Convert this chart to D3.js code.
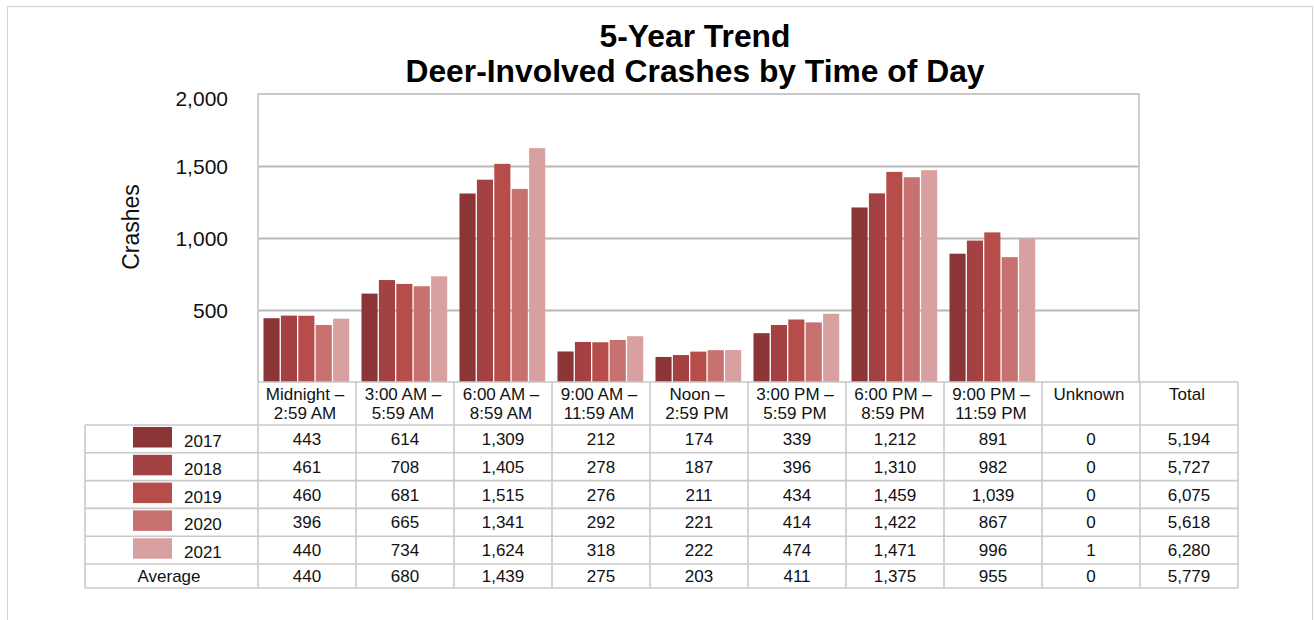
<!DOCTYPE html>
<html>
<head>
<meta charset="utf-8">
<script src="https://cdn.jsdelivr.net/npm/d3@7"></script>
<style>
  html, body { margin: 0; padding: 0; background: #ffffff; }
  svg { display: block; font-family: "Liberation Sans", Arial, sans-serif; }
</style>
</head>
<body>
<svg id="chart" width="1314" height="620"></svg>
<script>
// ---------- data ----------
const titleLines = ["5-Year Trend", "Deer-Involved Crashes by Time of Day"];
const yAxisTitle = "Crashes";
const categories = [
  "Midnight –|2:59 AM", "3:00 AM –|5:59 AM", "6:00 AM –|8:59 AM", "9:00 AM –|11:59 AM",
  "Noon –|2:59 PM", "3:00 PM –|5:59 PM", "6:00 PM –|8:59 PM", "9:00 PM –|11:59 PM", "Unknown"
];
const totalHeader = "Total";
const years = ["2017", "2018", "2019", "2020", "2021"];
const values2017 = [443, 614, 1309, 212, 174, 339, 1212, 891, 0];
const values2018 = [461, 708, 1405, 278, 187, 396, 1310, 982, 0];
const values2019 = [460, 681, 1515, 276, 211, 434, 1459, 1039, 0];
const values2020 = [396, 665, 1341, 292, 221, 414, 1422, 867, 0];
const values2021 = [440, 734, 1624, 318, 222, 474, 1471, 996, 1];
const totals = [5194, 5727, 6075, 5618, 6280];
const averageLabel = "Average";
const averages = [440, 680, 1439, 275, 203, 411, 1375, 955, 0];
const averageTotal = 5779;
const yTicks = [500, 1000, 1500, 2000];
const colors = ["#8c3537", "#a44142", "#b64d4b", "#c77170", "#d8a0a1"];

const series = [values2017, values2018, values2019, values2020, values2021];

// ---------- layout ----------
const svg = d3.select("#chart");
const fmt = d3.format(",");
const font = "Liberation Sans, Arial, sans-serif";
const plot = { left: 258, right: 1140, top: 94, bottom: 382 };
const colW = (plot.right - plot.left) / categories.length;
const tableLeft = 85;
const tableRight = plot.right + colW;
const headerBottom = 425;
const rowH = 27.8;
const avgRowH = 24;
const lineColor = "#c9c9c9";

// outer frame
svg.append("rect")
  .attr("x", 7.5).attr("y", 6.5).attr("width", 1305).attr("height", 700)
  .attr("fill", "none").attr("stroke", "#d3d3d3").attr("stroke-width", 1.2);

// title
svg.append("g").selectAll("text").data(titleLines).join("text")
  .attr("x", 695).attr("y", (d, i) => 47 + i * 35)
  .attr("text-anchor", "middle")
  .attr("font-size", 31.8).attr("font-weight", "bold").attr("fill", "#000")
  .text(d => d);

// scales
const x0 = d3.scaleBand().domain(categories).range([plot.left, plot.right])
  .paddingInner(0.112).paddingOuter(0.056);
const x1 = d3.scaleBand().domain(years).range([0, x0.bandwidth()]);
const y = d3.scaleLinear().domain([0, 2000]).range([plot.bottom, plot.top]);

// gridlines
const grid = svg.append("g").attr("transform", `translate(${plot.left},0)`)
  .call(d3.axisLeft(y).tickValues(yTicks.filter(v => v < 2000)).tickSize(-(plot.right - plot.left)).tickFormat(""));
grid.select(".domain").remove();
grid.selectAll(".tick line").attr("stroke", "#b8b8b8").attr("stroke-width", 2);

// plot border (top, left, right)
svg.append("path")
  .attr("d", `M${plot.left},${plot.bottom} V${y(2000)} H${plot.right - 1} V${plot.bottom}`)
  .attr("fill", "none").attr("stroke", lineColor).attr("stroke-width", 1.8);

// y axis labels
const yAxis = svg.append("g").attr("transform", `translate(${plot.left},0)`)
  .call(d3.axisLeft(y).tickValues(yTicks).tickSize(0).tickPadding(30).tickFormat(fmt));
yAxis.select(".domain").remove();
yAxis.selectAll("text")
  .attr("font-family", font).attr("font-size", 21).attr("fill", "#111")
  .attr("dy", d => d === 2000 ? "0.55em" : "0.34em");

// y axis title
svg.append("text")
  .attr("transform", "translate(131,227) rotate(-90)")
  .attr("text-anchor", "middle").attr("dominant-baseline", "central")
  .attr("font-size", 23).attr("fill", "#111").text(yAxisTitle);

// bars
const groups = svg.append("g").selectAll("g").data(categories).join("g")
  .attr("transform", d => `translate(${x0(d)},0)`);
groups.selectAll("rect")
  .data((c, ci) => years.map((yr, si) => ({ yr, si, v: series[si][ci] })))
  .join("rect")
  .attr("x", d => x1(d.yr))
  .attr("width", x1.bandwidth() - 1.3)
  .attr("y", d => y(d.v))
  .attr("height", d => y(0) - y(d.v))
  .attr("fill", d => colors[d.si]);

// ---------- table ----------
const table = svg.append("g");
const colEdges = d3.range(categories.length + 2).map(i => plot.left + i * colW);
const rowTops = [headerBottom];
years.forEach(() => rowTops.push(rowTops[rowTops.length - 1] + rowH));
rowTops.push(rowTops[rowTops.length - 1] + avgRowH);
const tableBottom = rowTops[rowTops.length - 1];

// horizontal lines
table.append("line").attr("x1", plot.left).attr("x2", tableRight).attr("y1", plot.bottom).attr("y2", plot.bottom);
rowTops.forEach(t => table.append("line").attr("x1", tableLeft).attr("x2", tableRight).attr("y1", t).attr("y2", t));
// vertical lines
table.append("line").attr("x1", tableLeft).attr("x2", tableLeft).attr("y1", headerBottom).attr("y2", tableBottom);
colEdges.forEach(xe => table.append("line").attr("x1", xe).attr("x2", xe).attr("y1", plot.bottom).attr("y2", tableBottom));
table.selectAll("line").attr("stroke", lineColor).attr("stroke-width", 1.6);

// headers
const headers = categories.concat([totalHeader]);
headers.forEach((h, i) => {
  const cx = colEdges[i] + colW / 2 - 2;
  const t = table.append("text").attr("text-anchor", "middle").attr("font-size", 17).attr("fill", "#111");
  h.split("|").forEach((ln, li) => {
    t.append("tspan").attr("x", cx).attr("y", 400 + li * 19.3).text(ln);
  });
});

// data rows
years.forEach((yr, si) => {
  const top = rowTops[si];
  const cy = top + rowH / 2 + 0.5;
  table.append("rect").attr("x", 133).attr("y", top + 2).attr("width", 39).attr("height", 20.5).attr("fill", colors[si]);
  table.append("text").attr("x", 184).attr("y", cy + 2).attr("dominant-baseline", "central")
    .attr("font-size", 17).attr("fill", "#111").text(yr);
  series[si].concat([totals[si]]).forEach((v, ci) => {
    table.append("text").attr("x", colEdges[ci] + colW / 2).attr("y", cy)
      .attr("text-anchor", "middle").attr("dominant-baseline", "central")
      .attr("font-size", 17).attr("fill", "#111").text(fmt(v));
  });
});
// average row
{
  const top = rowTops[years.length];
  const cy = top + avgRowH / 2 + 0.5;
  table.append("text").attr("x", 169).attr("y", cy).attr("text-anchor", "middle").attr("dominant-baseline", "central")
    .attr("font-size", 17).attr("fill", "#111").text(averageLabel);
  averages.concat([averageTotal]).forEach((v, ci) => {
    table.append("text").attr("x", colEdges[ci] + colW / 2).attr("y", cy)
      .attr("text-anchor", "middle").attr("dominant-baseline", "central")
      .attr("font-size", 17).attr("fill", "#111").text(fmt(v));
  });
}
</script>
</body>
</html>
